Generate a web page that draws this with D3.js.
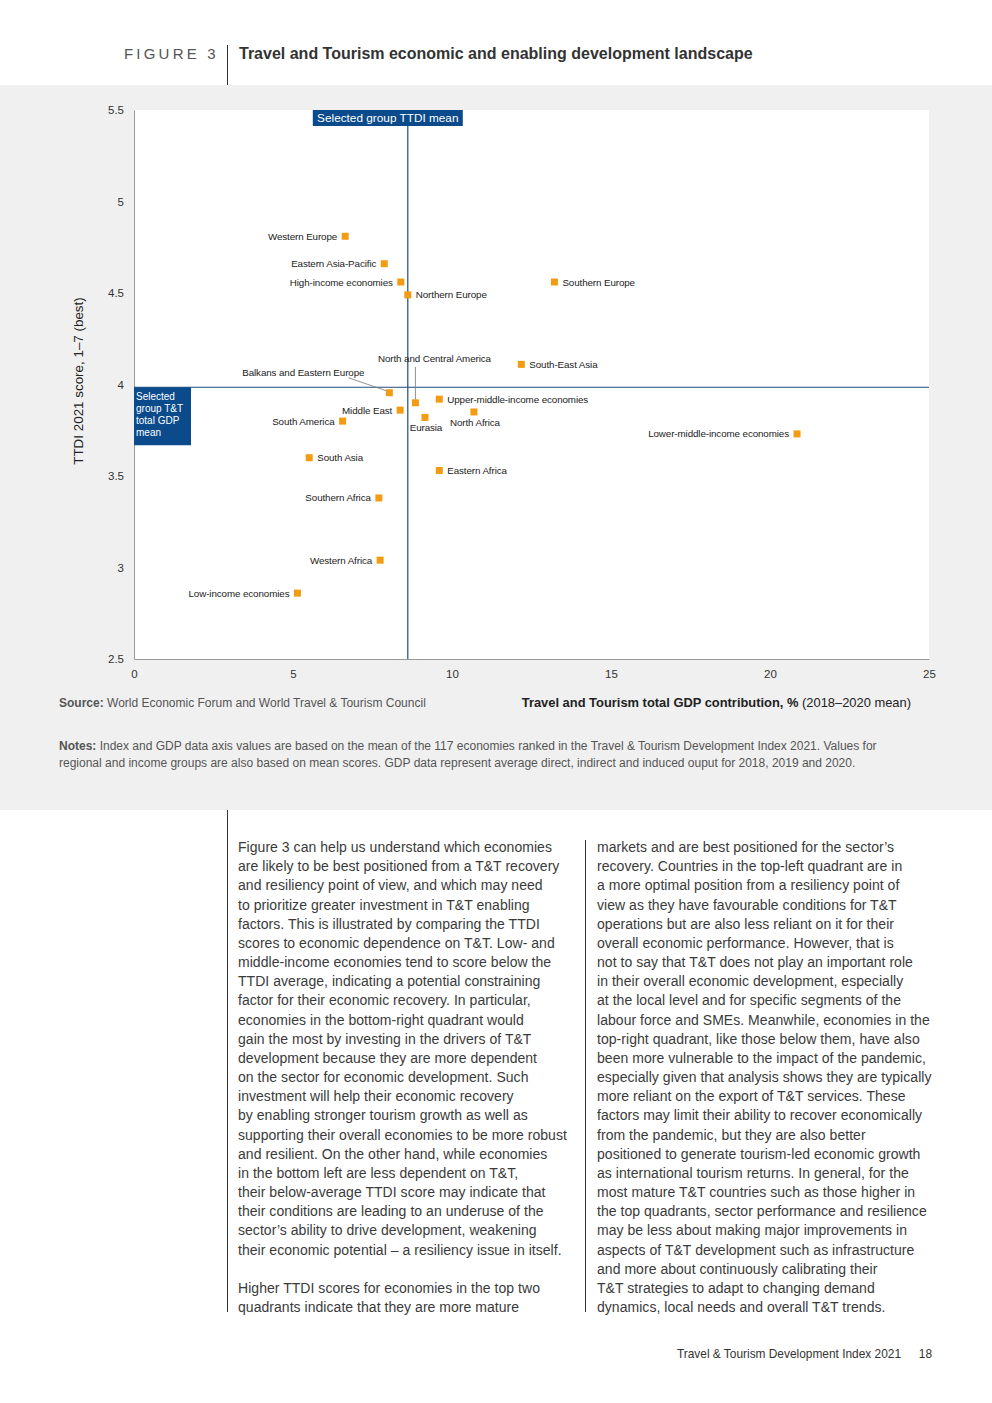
<!DOCTYPE html>
<html>
<head>
<meta charset="utf-8">
<script src="https://cdn.jsdelivr.net/npm/d3@7"></script>
<style>
  html, body { margin: 0; padding: 0; background: #ffffff; }
  svg { display: block; font-family: "Liberation Sans", Arial, Helvetica, sans-serif; }
</style>
</head>
<body>
<svg id="chart" width="992" height="1403"></svg>
<script>
// ---------- DATA ----------
const groups = [
  "Western Europe", "Eastern Asia-Pacific", "High-income economies", "Northern Europe",
  "Southern Europe", "South-East Asia", "Balkans and Eastern Europe", "North and Central America",
  "Upper-middle-income economies", "Middle East", "Eurasia", "North Africa",
  "South America", "Lower-middle-income economies", "South Asia", "Eastern Africa",
  "Southern Africa", "Western Africa", "Low-income economies"
];
const gdpShare = [6.64, 7.87, 8.39, 8.61, 13.22, 12.18, 8.03, 8.85, 9.60, 8.37, 9.15, 10.69, 6.56, 20.85, 5.51, 9.60, 7.70, 7.74, 5.14];
const ttdiScore = [4.81, 4.66, 4.56, 4.49, 4.56, 4.11, 3.955, 3.90, 3.92, 3.86, 3.82, 3.85, 3.80, 3.73, 3.60, 3.53, 3.38, 3.04, 2.86];
const meanGdp = 8.61;
const meanTtdi = 3.985;
const xTicks = [0, 5, 10, 15, 20, 25];
const yTicks = [2.5, 3, 3.5, 4, 4.5, 5, 5.5];
const yTickLabels = ["2.5", "3", "3.5", "4", "4.5", "5", "5.5"];

// label placement (layout only)
const labelPlace = {
  "Western Europe": "left", "Eastern Asia-Pacific": "left", "High-income economies": "left",
  "Northern Europe": "right", "Southern Europe": "right", "South-East Asia": "right",
  "Balkans and Eastern Europe": "leaderLeft", "North and Central America": "leaderUp",
  "Upper-middle-income economies": "right", "Middle East": "left", "Eurasia": "below",
  "North Africa": "belowRight", "South America": "left", "Lower-middle-income economies": "left",
  "South Asia": "right", "Eastern Africa": "right", "Southern Africa": "left",
  "Western Africa": "left", "Low-income economies": "left"
};

const bodyLeft = [
  "Figure 3 can help us understand which economies",
  "are likely to be best positioned from a T&T recovery",
  "and resiliency point of view, and which may need",
  "to prioritize greater investment in T&T enabling",
  "factors. This is illustrated by comparing the TTDI",
  "scores to economic dependence on T&T. Low- and",
  "middle-income economies tend to score below the",
  "TTDI average, indicating a potential constraining",
  "factor for their economic recovery. In particular,",
  "economies in the bottom-right quadrant would",
  "gain the most by investing in the drivers of T&T",
  "development because they are more dependent",
  "on the sector for economic development. Such",
  "investment will help their economic recovery",
  "by enabling stronger tourism growth as well as",
  "supporting their overall economies to be more robust",
  "and resilient. On the other hand, while economies",
  "in the bottom left are less dependent on T&T,",
  "their below-average TTDI score may indicate that",
  "their conditions are leading to an underuse of the",
  "sector’s ability to drive development, weakening",
  "their economic potential – a resiliency issue in itself.",
  "",
  "Higher TTDI scores for economies in the top two",
  "quadrants indicate that they are more mature"
];
const bodyRight = [
  "markets and are best positioned for the sector’s",
  "recovery. Countries in the top-left quadrant are in",
  "a more optimal position from a resiliency point of",
  "view as they have favourable conditions for T&T",
  "operations but are also less reliant on it for their",
  "overall economic performance. However, that is",
  "not to say that T&T does not play an important role",
  "in their overall economic development, especially",
  "at the local level and for specific segments of the",
  "labour force and SMEs. Meanwhile, economies in the",
  "top-right quadrant, like those below them, have also",
  "been more vulnerable to the impact of the pandemic,",
  "especially given that analysis shows they are typically",
  "more reliant on the export of T&T services. These",
  "factors may limit their ability to recover economically",
  "from the pandemic, but they are also better",
  "positioned to generate tourism-led economic growth",
  "as international tourism returns. In general, for the",
  "most mature T&T countries such as those higher in",
  "the top quadrants, sector performance and resilience",
  "may be less about making major improvements in",
  "aspects of T&T development such as infrastructure",
  "and more about continuously calibrating their",
  "T&T strategies to adapt to changing demand",
  "dynamics, local needs and overall T&T trends."
];

// ---------- DRAW ----------
const svg = d3.select("#chart");
const W = 992;
const blue = "#0b4a8b";
const orange = "#f39c12";

// grey panel
svg.append("rect").attr("x", 0).attr("y", 85).attr("width", W).attr("height", 725).attr("fill", "#f0f0f0");

// header
svg.append("text").attr("x", 124).attr("y", 59).attr("font-size", 15).attr("letter-spacing", 3.2)
  .attr("fill", "#555").text("FIGURE 3");
svg.append("line").attr("x1", 227.5).attr("x2", 227.5).attr("y1", 45).attr("y2", 85).attr("stroke", "#333").attr("stroke-width", 1);
svg.append("text").attr("x", 239).attr("y", 59).attr("font-size", 16).attr("font-weight", "bold")
  .attr("fill", "#333").text("Travel and Tourism economic and enabling development landscape");

// plot area
const m = { left: 134, right: 929, top: 110, bottom: 659 };
svg.append("rect").attr("x", m.left).attr("y", m.top).attr("width", m.right - m.left).attr("height", m.bottom - m.top).attr("fill", "#fff");

const x = d3.scaleLinear().domain([0, 25]).range([m.left, m.right]);
const y = d3.scaleLinear().domain([2.5, 5.5]).range([m.bottom, m.top]);

// axes
const xAxis = svg.append("g").attr("transform", `translate(0,${m.bottom})`)
  .call(d3.axisBottom(x).tickValues(xTicks).tickSize(0).tickPadding(11).tickFormat(d3.format("d")));
xAxis.select(".domain").attr("stroke", "#999");
xAxis.selectAll("text").attr("font-size", 11.5).attr("fill", "#333").attr("font-family", "Liberation Sans, Arial, sans-serif");

const yAxis = svg.append("g").attr("transform", `translate(${m.left},0)`)
  .call(d3.axisLeft(y).tickValues(yTicks).tickSize(0).tickPadding(10).tickFormat((d, i) => yTickLabels[i]));
yAxis.select(".domain").attr("stroke", "#999");
yAxis.selectAll("text").attr("font-size", 11.5).attr("fill", "#333").attr("font-family", "Liberation Sans, Arial, sans-serif");

// mean lines
svg.append("line").attr("x1", x(meanGdp)).attr("x2", x(meanGdp)).attr("y1", m.top + 16).attr("y2", m.bottom)
  .attr("stroke", "#1f4e79").attr("stroke-width", 1.2);
svg.append("line").attr("x1", m.left).attr("x2", m.right).attr("y1", y(meanTtdi)).attr("y2", y(meanTtdi))
  .attr("stroke", "#1f4e79").attr("stroke-width", 1.2);

// mean labels
const topBoxW = 150;
svg.append("rect").attr("x", x(meanGdp) - 95).attr("y", m.top).attr("width", topBoxW).attr("height", 16).attr("fill", blue);
svg.append("text").attr("x", x(meanGdp) - 95 + topBoxW / 2).attr("y", m.top + 12).attr("text-anchor", "middle")
  .attr("font-size", 11.8).attr("fill", "#fff").text("Selected group TTDI mean");

svg.append("rect").attr("x", m.left).attr("y", y(meanTtdi)).attr("width", 57).attr("height", 58).attr("fill", blue);
["Selected", "group T&T", "total GDP", "mean"].forEach((t, i) => {
  svg.append("text").attr("x", m.left + 2).attr("y", y(meanTtdi) + 13 + i * 12)
    .attr("font-size", 10).attr("fill", "#fff").text(t);
});

// leader lines
const idx = n => groups.indexOf(n);
{
  const i = idx("Balkans and Eastern Europe");
  svg.append("line").attr("x1", x(gdpShare[i]) - 41).attr("y1", y(ttdiScore[i]) - 15)
    .attr("x2", x(gdpShare[i]) - 3).attr("y2", y(ttdiScore[i]) - 2).attr("stroke", "#777").attr("stroke-width", 0.8);
  const j = idx("North and Central America");
  svg.append("line").attr("x1", x(gdpShare[j])).attr("y1", y(ttdiScore[j]) - 36)
    .attr("x2", x(gdpShare[j])).attr("y2", y(ttdiScore[j]) - 3).attr("stroke", "#777").attr("stroke-width", 0.8);
}

// points
const pts = groups.map((g, i) => ({ name: g, gx: gdpShare[i], ty: ttdiScore[i] }));
const sz = 7;
svg.append("g").selectAll("rect").data(pts).join("rect")
  .attr("x", d => x(d.gx) - sz / 2).attr("y", d => y(d.ty) - sz / 2)
  .attr("width", sz).attr("height", sz).attr("fill", orange);

// labels
svg.append("g").selectAll("text").data(pts).join("text")
  .attr("font-size", 9.8).attr("fill", "#222").attr("letter-spacing", -0.1)
  .each(function (d) {
    const p = labelPlace[d.name];
    const cx = x(d.gx), cy = y(d.ty);
    const t = d3.select(this).text(d.name);
    if (p === "left") t.attr("x", cx - 8).attr("y", cy + 3.5).attr("text-anchor", "end");
    else if (p === "right") t.attr("x", cx + 8).attr("y", cy + 3.5).attr("text-anchor", "start");
    else if (p === "below") t.attr("x", cx + 1).attr("y", cy + 14).attr("text-anchor", "middle");
    else if (p === "belowRight") t.attr("x", cx + 1).attr("y", cy + 14).attr("text-anchor", "middle");
    else if (p === "leaderLeft") t.attr("x", cx - 25).attr("y", cy - 17).attr("text-anchor", "end");
    else if (p === "leaderUp") t.attr("x", cx + 19).attr("y", cy - 41).attr("text-anchor", "middle");
  });

// axis titles
svg.append("text").attr("transform", "translate(83,381) rotate(-90)").attr("text-anchor", "middle")
  .attr("font-size", 13.4).attr("fill", "#222").text("TTDI 2021 score, 1–7 (best)");

const xt = svg.append("text").attr("x", 911).attr("y", 707).attr("text-anchor", "end").attr("font-size", 12.9).attr("fill", "#222");
xt.append("tspan").attr("font-weight", "bold").attr("fill", "#222").text("Travel and Tourism total GDP contribution, % ");
xt.append("tspan").text("(2018–2020 mean)");

// source & notes
const src = svg.append("text").attr("x", 59).attr("y", 707).attr("font-size", 12).attr("fill", "#555");
src.append("tspan").attr("font-weight", "bold").text("Source: ");
src.append("tspan").text("World Economic Forum and World Travel & Tourism Council");

const n1 = svg.append("text").attr("x", 59).attr("y", 750).attr("font-size", 12).attr("fill", "#555");
n1.append("tspan").attr("font-weight", "bold").text("Notes: ");
n1.append("tspan").text("Index and GDP data axis values are based on the mean of the 117 economies ranked in the Travel & Tourism Development Index 2021. Values for");
svg.append("text").attr("x", 59).attr("y", 767).attr("font-size", 12).attr("fill", "#555")
  .text("regional and income groups are also based on mean scores. GDP data represent average direct, indirect and induced ouput for 2018, 2019 and 2020.");

// body text columns
svg.append("line").attr("x1", 227.5).attr("x2", 227.5).attr("y1", 810).attr("y2", 1312).attr("stroke", "#333");
svg.append("line").attr("x1", 585.5).attr("x2", 585.5).attr("y1", 840).attr("y2", 1312).attr("stroke", "#333");

const lh = 19.17;
function column(lines, x0) {
  svg.append("g").selectAll("text").data(lines).join("text")
    .attr("x", x0).attr("y", (d, i) => 852 + i * lh)
    .attr("font-size", 14).attr("letter-spacing", 0.04).attr("fill", "#3a3a3a").text(d => d);
}
column(bodyLeft, 238);
column(bodyRight, 597);

// footer
svg.append("text").attr("x", 901).attr("y", 1358).attr("text-anchor", "end").attr("font-size", 11.9).attr("fill", "#333")
  .text("Travel & Tourism Development Index 2021");
svg.append("text").attr("x", 932).attr("y", 1358).attr("text-anchor", "end").attr("font-size", 11.9).attr("fill", "#333").text("18");
</script>
</body>
</html>
